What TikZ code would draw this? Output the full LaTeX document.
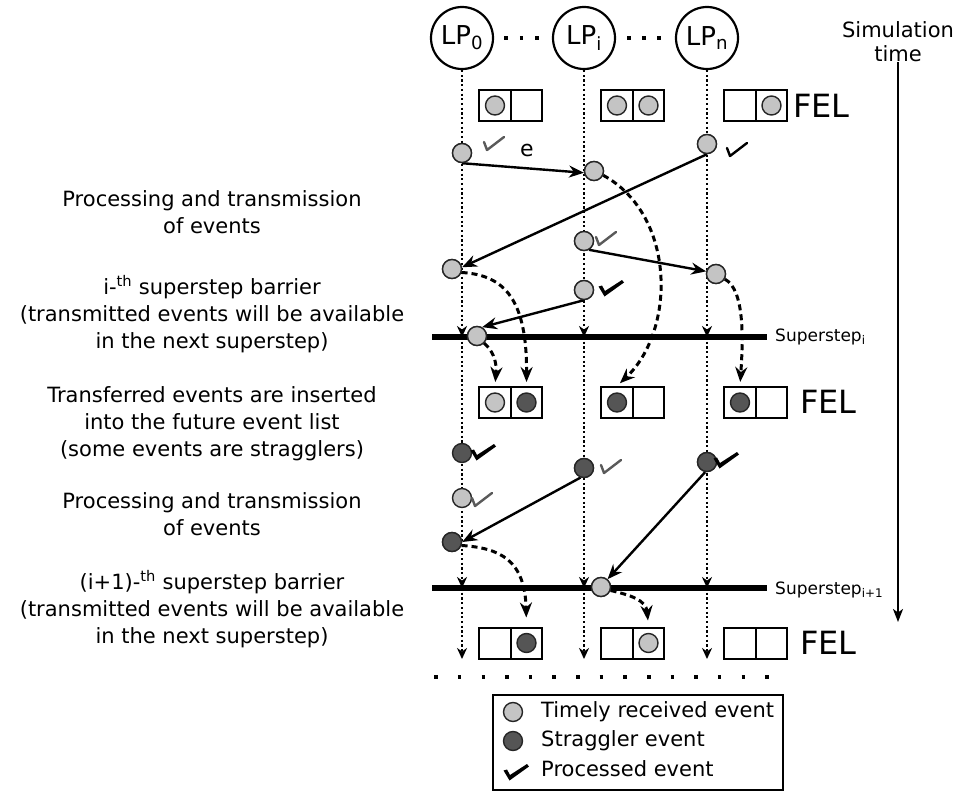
\documentclass[tikz,border=0pt]{standalone}
\usepackage{fontspec}
\setmainfont{DejaVu Sans}
\usetikzlibrary{arrows.meta}

\definecolor{timely}{HTML}{C4C4C4}
\definecolor{strag}{HTML}{555555}
\definecolor{tickgray}{HTML}{5A5A5A}

\tikzset{
  tickthin/.pic={\draw[line width=2.4pt,line cap=round,line join=round] (-3,-8) -- (0,0) -- (17,-13);},
  tickbold/.pic={\fill (-5.5,-8.5) -- (-2,-9.5) -- (1,-4) -- (18,-15) -- (20,-12.5) -- (0.5,1.5) -- cycle;}
}

\begin{document}
\begin{tikzpicture}[x=1pt,y=-1pt,
  every node/.style={inner sep=0pt},
  lp/.style={circle,draw,line width=2.2pt,minimum size=62pt,font=\fontsize{26}{26}\selectfont},
  ev/.style={circle,draw=black!85,line width=1.4pt,minimum size=19pt},
  tev/.style={ev,fill=timely},
  sev/.style={ev,fill=strag},
  cell/.style={draw,line width=2pt,minimum width=31.5pt,minimum height=31pt},
  fellbl/.style={anchor=west,font=\fontsize{32}{32}\selectfont},
  life/.style={line width=2.4pt,dash pattern=on 2.2pt off 2.5pt,-{Stealth[length=11pt,width=10pt,inset=3.5pt]}},
  msg/.style={line width=2.4pt,-{Stealth[length=15pt,width=12pt,inset=5pt]}},
  xfer/.style={line width=3pt,dash pattern=on 6pt off 4pt,-{Stealth[length=15pt,width=12pt,inset=5pt]}},
  barrier/.style={line width=5.5pt},
  note/.style={align=center,font=\fontsize{21}{27}\selectfont},
  sslbl/.style={anchor=west,font=\fontsize{17}{17}\selectfont},
  legtxt/.style={anchor=west,font=\fontsize{21}{21}\selectfont}
]
\useasboundingbox (0,0) rectangle (959,792);

% logical processes
\node[lp] (lp0) at (462,38) {LP\textsubscript{0}};
\node[lp] (lpi) at (584,38) {LP\textsubscript{i}};
\node[lp] (lpn) at (707,38) {LP\textsubscript{n}};
\draw[line width=3.5pt,dash pattern=on 3.5pt off 12pt] (504.25,38) -- (539,38);
\draw[line width=3.5pt,dash pattern=on 3.5pt off 11.5pt] (627.25,38) -- (661,38);

% simulation time axis
\node[note,font=\fontsize{21}{24}\selectfont] (simt) at (898,42) {Simulation\\time};
\coordinate (tEnd) at (898,622);
\draw[line width=2pt,-{Stealth[length=13pt,width=10pt,inset=3.5pt]}] (simt.south) -- (tEnd);

% barriers and lifeline stops
\foreach \n/\x in {0/462,i/584,n/707}{
  \coordinate (ba\n) at (\x,337);
  \coordinate (bb\n) at (\x,588);
  \coordinate (be\n) at (\x,659);
}
\coordinate (sA1) at (432,337); \coordinate (sB1) at (767,337);
\coordinate (sA2) at (432,588); \coordinate (sB2) at (767,588);

\foreach \n in {0,i,n}{
  \draw[life] (lp\n.south) -- (ba\n);
  \draw[life] (ba\n) -- (bb\n);
  \draw[life] (bb\n) -- (be\n);
}
\draw[barrier] (sA1) -- (sB1);
\draw[barrier] (sA2) -- (sB2);
\node[sslbl] (ss1) at (775,337) {Superstep\textsubscript{i}};
\node[sslbl] (ss2) at (775,590) {Superstep\textsubscript{i+1}};

% future event lists
\foreach \r/\y in {1/105.5,2/402.5,3/643}{
  \node[cell] (f\r0a) at (495,\y) {};
  \node[cell] (f\r0b) at (526.5,\y) {};
  \node[cell] (f\r ia) at (617,\y) {};
  \node[cell] (f\r ib) at (648.5,\y) {};
  \node[cell] (f\r na) at (740,\y) {};
  \node[cell] (f\r nb) at (771.5,\y) {};
}
\node[fellbl] (fel1) at (793,106) {FEL};
\node[fellbl] (fel2) at (800,402) {FEL};
\node[fellbl] (fel3) at (800,643) {FEL};

\node[tev] (q10a) at (f10a) {};
\node[tev] (q1ia) at (f1ia) {};
\node[tev] (q1ib) at (f1ib) {};
\node[tev] (q1nb) at (f1nb) {};
\node[tev] (q20a) at (f20a) {};
\node[sev] (q20b) at (f20b) {};
\node[sev] (q2ia) at (f2ia) {};
\node[sev] (q2na) at (f2na) {};
\node[sev] (q30b) at (f30b) {};
\node[tev] (q3ib) at (f3ib) {};

% events of superstep i
\coordinate (e1) at (462,153);
\coordinate (e2) at (594,171);
\coordinate (e3) at (707,144);
\coordinate (e4) at (584,241);
\coordinate (e5) at (584,290);
\coordinate (e6) at (452,269);
\coordinate (e7) at (716,274);
\coordinate (e8) at (477,336);
\node[tev] (ev1) at (e1) {};
\node[tev] (ev2) at (e2) {};
\node[tev] (ev3) at (e3) {};
\node[tev] (ev4) at (e4) {};
\node[tev] (ev5) at (e5) {};
\node[tev] (ev6) at (e6) {};
\node[tev] (ev7) at (e7) {};
\node[tev] (ev8) at (e8) {};

% events of superstep i+1
\node[sev] (d1) at (462,453) {};
\node[sev] (d2) at (584,468) {};
\node[sev] (d3) at (707,462) {};
\node[tev] (l1) at (462,498) {};
\node[sev] (d4) at (452,542) {};
\node[tev] (l2) at (601,587) {};

% messages
\draw[msg] (ev1.south) -- (ev2.190);
\draw[msg] (ev3.south) -- (ev6.10);
\draw[msg] (ev4.-60) -- (ev7.165);
\draw[msg] (ev5.south) -- (ev8.60);
\draw[msg] (d2.-110) -- (d4.east);
\draw[msg] (d3.-100) -- (l2.50);

% transfers into the future event lists
\draw[xfer,shorten >=4pt] (ev2.-25) .. controls (676,215) and (676,330) .. (f2ia.north);
\draw[xfer,shorten >=4pt] (ev7.-30) .. controls (745,290) and (743,340) .. (f2na.north);
\draw[xfer,shorten >=4pt] (ev6.-20) .. controls (505,275) and (527,300) .. (f20b.north);
\draw[xfer,shorten >=4pt] (ev8.-45) .. controls (492,350) and (497,360) .. (f20a.north);
\draw[xfer,shorten >=9pt] (d4.-20) .. controls (500,548) and (525,560) .. (f30b.north);
\draw[xfer,shorten >=6pt] (l2.-20) .. controls (630,595) and (646,600) .. (f3ib.north);

% redraw circles over line ends
\node[tev] at (e1) {};
\node[tev] at (e2) {};
\node[tev] at (e3) {};
\node[tev] at (e4) {};
\node[tev] at (e5) {};
\node[tev] at (e6) {};
\node[tev] at (e7) {};
\node[tev] at (e8) {};
\node[sev] at (d2) {};
\node[sev] at (d3) {};
\node[sev] at (d4) {};
\node[tev] at (l2) {};

\node[font=\fontsize{22}{22}\selectfont] (elbl) at (527,150) {e};

% processed marks
\pic[color=tickgray] at (487,150) {tickthin};
\pic at (730,156) {tickthin};
\pic[color=tickgray] at (599,245) {tickthin};
\pic at (604,295) {tickbold};
\pic at (476,459) {tickbold};
\pic[color=tickgray] at (604,473) {tickthin};
\pic at (719,467) {tickbold};
\pic[color=tickgray] at (475,506) {tickthin};

% continuation
\coordinate (dA) at (434.25,677);
\coordinate (dB) at (769,677);
\draw[line width=3.5pt,dash pattern=on 3.5pt off 20.14pt] (dA) -- (dB);

% descriptions
\node[note] (n1) at (212,212) {Processing and transmission\\of events};
\node[note] (n2) at (212,314) {i-\textsuperscript{th} superstep barrier\\(transmitted events will be available\\in the next superstep)};
\node[note] (n3) at (212,424) {Transferred events are inserted\\into the future event list\\(some events are stragglers)};
\node[note] (n4) at (212,514.5) {Processing and transmission\\of events};
\node[note] (n5) at (212,609) {(i+1)-\textsuperscript{th} superstep barrier\\(transmitted events will be available\\in the next superstep)};

% legend
\node[draw,line width=1.8pt,minimum width=290pt,minimum height=95pt] (legend) at (638,742.5) {};
\node[tev] (lg1) at (513,712) {};
\node[sev] (lg2) at (513,741) {};
\pic at (509,779) {tickbold};
\node[legtxt] (lt1) at (541,712) {Timely received event};
\node[legtxt] (lt2) at (541,741) {Straggler event};
\node[legtxt] (lt3) at (541,769) {Processed event};
\end{tikzpicture}
\end{document}
